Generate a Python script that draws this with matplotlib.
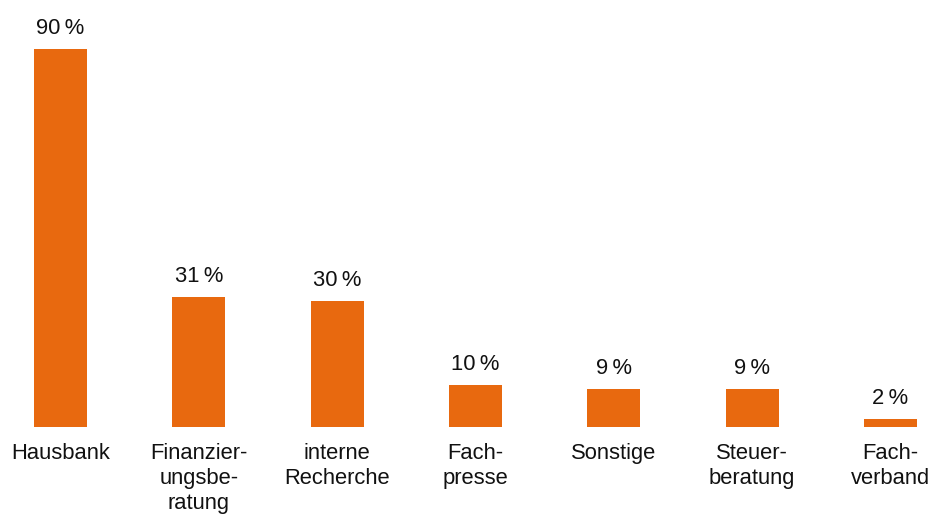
import matplotlib.pyplot as plt

# Daten
kategorien = ['Hausbank', 'Finanzier-\nungsbe-\nratung', 'interne\nRecherche', 'Fach-\npresse',
              'Sonstige', 'Steuer-\nberatung', 'Fach-\nverband']
werte = [90, 31, 30, 10, 9, 9, 2]

plt.rcParams['font.family'] = ['Liberation Sans', 'DejaVu Sans']

fig = plt.figure(figsize=(9.33, 5.15), dpi=100)
ax = fig.add_axes([0, 88 / 515, 1, 427 / 515])

x = list(range(len(werte)))
ax.bar(x, werte, width=0.383, color='#E8690F')

for xi, v in zip(x, werte):
    ax.text(xi, v + 2.4, f'{v}\u2009%', ha='center', va='bottom', fontsize=15.8, color='#111111')
    ax.text(xi, -3.8, kategorien[xi], ha='center', va='top',
            fontsize=15.8, color='#111111', linespacing=1.24)

ax.set_xlim(-0.437, 6.307)
ax.set_ylim(0, 101.67)
ax.axis('off')

fig.savefig('out.png', dpi=100)
